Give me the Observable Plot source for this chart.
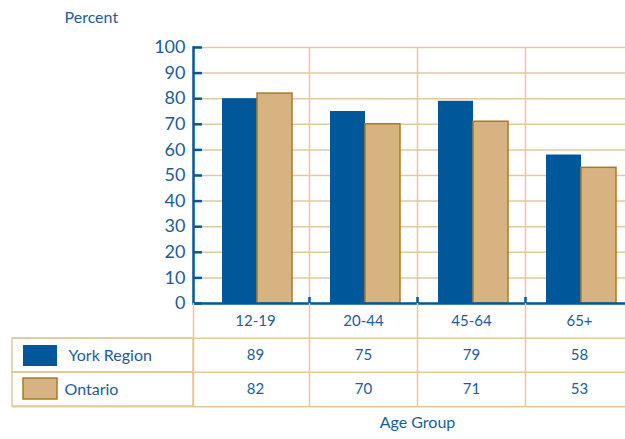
<!DOCTYPE html>
<html>
<head>
<meta charset="utf-8">
<script src="https://cdn.jsdelivr.net/npm/d3@7"></script>
<script src="https://cdn.jsdelivr.net/npm/@observablehq/plot@0.6"></script>
<style>
  html, body { margin: 0; padding: 0; background: #fff; }
  #chart { width: 625px; height: 439px; overflow: hidden; }
  #chart svg { display: block; }
  #table { margin-top: -3px; }
</style>
</head>
<body>
<div id="chart"></div>
<script>
// ---- data ----
const categories = ["12-19", "20-44", "45-64", "65+"];
const series = ["York Region", "Ontario"];
const yorkBars = [80, 75, 79, 58];
const ontarioBars = [82, 70, 71, 53];
const yorkTable = ["89", "75", "79", "58"];
const ontarioTable = ["82", "70", "71", "53"];
const yTicks = [0, 10, 20, 30, 40, 50, 60, 70, 80, 90, 100];
const rows = ["header", "York Region", "Ontario"];

// ---- styles ----
const blue = "#00589b";
const textBlue = "#1d5c9a";
const tan = "#d8b382";
const tanStroke = "#a97b1f";
const grid = "#e3c89c";
const font = "Lato, 'Open Sans', sans-serif";

const W = 625;
const mLeft = 193;
const xRange = [201, 633];
const step = (xRange[1] - xRange[0]) / categories.length;

const barData = categories.flatMap((c, i) => [
  {cat: c, series: series[0], value: yorkBars[i]},
  {cat: c, series: series[1], value: ontarioBars[i]}
]);
const tableData = categories.flatMap((c, i) => [
  {cat: c, row: series[0], text: yorkTable[i]},
  {cat: c, row: series[1], text: ontarioTable[i]}
]);

const xScale = {type: "band", domain: categories, range: xRange, padding: 0, axis: null};

const chart = Plot.plot({
  width: W,
  height: 306,
  marginTop: 47,
  marginBottom: 3,
  marginLeft: mLeft,
  marginRight: 0,
  style: {fontFamily: font, color: textBlue, background: "transparent", overflow: "visible"},
  x: xScale,
  y: {domain: [0, 100], axis: null},
  marks: [
    Plot.ruleY(yTicks, {stroke: grid, strokeWidth: 1.5}),
    Plot.ruleX(categories.slice(1), {x: d => d, dx: -step / 2, stroke: grid, strokeWidth: 1.5}),
    Plot.barY(barData.filter(d => d.series === series[0]), {
      x: "cat", y: "value", fill: blue, insetLeft: 21, insetRight: 52
    }),
    Plot.barY(barData.filter(d => d.series === series[1]), {
      x: "cat", y: "value", fill: tan, stroke: tanStroke, strokeWidth: 1.5, insetLeft: 56, insetRight: 17
    }),
    Plot.ruleY([0], {stroke: blue, strokeWidth: 2.5}),
    Plot.ruleX(categories.slice(1), {x: d => d, dx: -step / 2, y1: 0, y2: 0, insetTop: -6, stroke: blue, strokeWidth: 2.5}),
    Plot.ruleY(yTicks, {y: d => d, stroke: blue, strokeWidth: 2.5, insetRight: W - mLeft - 9}),
    Plot.frame({anchor: "left", stroke: blue, strokeWidth: 2.5}),
    Plot.axisY(yTicks, {label: null, tickSize: 0, tickPadding: 8, fontSize: 18, fill: textBlue}),
    Plot.text(["Percent"], {frameAnchor: "top-left", dx: -129, dy: -30, textAnchor: "start", lineAnchor: "middle", fontSize: 16, fill: textBlue})
  ]
});

const rowH = 104 / rows.length;
const table = Plot.plot({
  width: W,
  height: 136,
  marginTop: 0,
  marginBottom: 32,
  marginLeft: 12,
  marginRight: 0,
  style: {fontFamily: font, color: textBlue, background: "transparent", overflow: "visible"},
  x: xScale,
  y: {type: "band", domain: rows, range: [0, 104], padding: 0, axis: null},
  marks: [
    Plot.cell(series, {y: d => d, fill: "none", stroke: grid, strokeWidth: 1.5, insetRight: W - mLeft}),
    Plot.ruleY(series, {y: d => d, dy: -rowH / 2, stroke: grid, strokeWidth: 1.5}),
    Plot.ruleY([series[1]], {y: d => d, dy: rowH / 2, stroke: grid, strokeWidth: 1.5}),
    Plot.ruleX(categories.slice(1), {x: d => d, dx: -step / 2, stroke: grid, strokeWidth: 1.5}),
    Plot.ruleX([categories[0]], {x: d => d, dx: -step / 2 - (xRange[0] - mLeft), stroke: grid, strokeWidth: 1.5}),
    Plot.cell([series[0]], {y: d => d, fill: blue, insetLeft: 11, insetRight: W - 57, insetTop: 7, insetBottom: 6}),
    Plot.cell([series[1]], {y: d => d, fill: tan, stroke: tanStroke, strokeWidth: 1.5, insetLeft: 11, insetRight: W - 57, insetTop: 6, insetBottom: 7}),
    Plot.text([series[0]], {y: d => d, frameAnchor: "left", dx: 56, textAnchor: "start", fontSize: 16, fill: textBlue}),
    Plot.text([series[1]], {y: d => d, frameAnchor: "left", dx: 52, textAnchor: "start", fontSize: 16, fill: textBlue}),
    Plot.text(categories, {x: d => d, y: () => rows[0], fontSize: 15, fill: textBlue}),
    Plot.text(tableData, {x: "cat", y: "row", text: "text", fontSize: 15, fill: textBlue}),
    Plot.text(["Age Group"], {x: () => categories[2], dx: -step / 2, frameAnchor: "bottom", dy: 20, fontSize: 16, fill: textBlue})
  ]
});
table.id = "table";

const root = document.getElementById("chart");
root.appendChild(chart);
root.appendChild(table);
</script>
</body>
</html>
